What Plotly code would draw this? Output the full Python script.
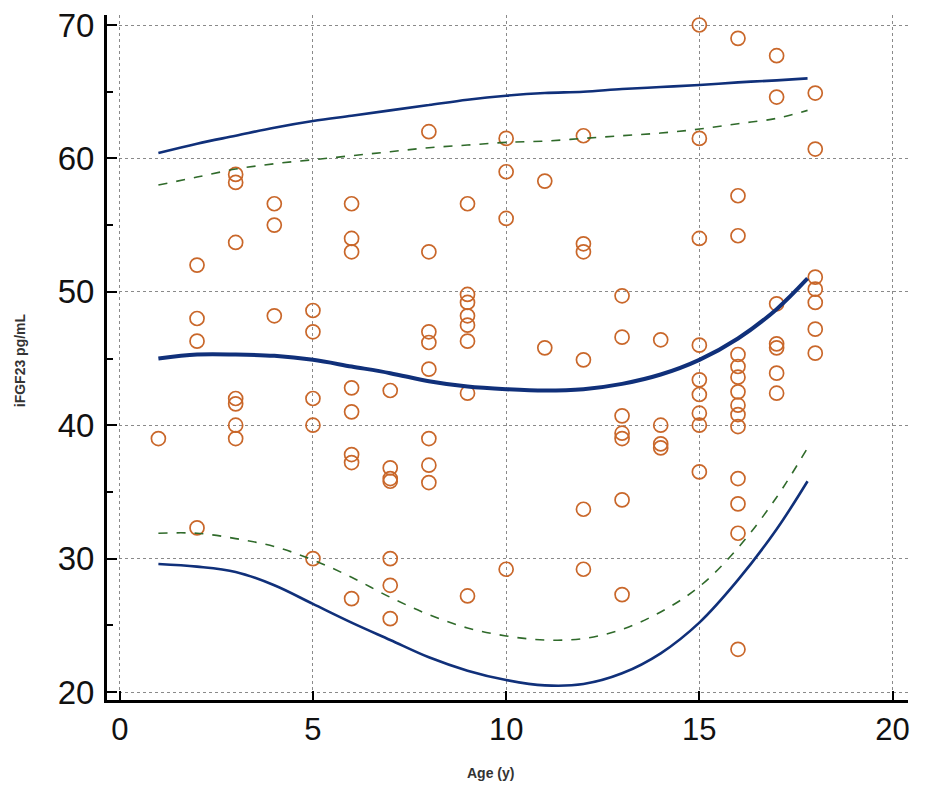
import plotly.graph_objects as go

# ---- scatter points (age in years, iFGF23 pg/mL) ----
point_age = (
    [1]
    + [2] * 4
    + [3] * 7
    + [4] * 3
    + [5] * 5
    + [6] * 8
    + [7] * 7
    + [8] * 8
    + [9] * 8
    + [10] * 4
    + [11] * 2
    + [12] * 6
    + [13] * 7
    + [14] * 4
    + [15] * 9
    + [16] * 14
    + [17] * 7
    + [18] * 7
)
point_value = (
    [39.0]
    + [52.0, 48.0, 46.3, 32.3]
    + [58.8, 58.2, 53.7, 42.0, 41.6, 40.0, 39.0]
    + [56.6, 55.0, 48.2]
    + [48.6, 47.0, 42.0, 40.0, 30.0]
    + [56.6, 54.0, 53.0, 42.8, 41.0, 37.8, 37.2, 27.0]
    + [42.6, 36.8, 36.0, 35.8, 30.0, 28.0, 25.5]
    + [62.0, 53.0, 47.0, 46.2, 44.2, 39.0, 37.0, 35.7]
    + [56.6, 49.8, 49.2, 48.2, 47.5, 46.3, 42.4, 27.2]
    + [61.5, 59.0, 55.5, 29.2]
    + [58.3, 45.8]
    + [61.7, 53.6, 53.0, 44.9, 33.7, 29.2]
    + [49.7, 46.6, 40.7, 39.4, 39.0, 34.4, 27.3]
    + [46.4, 40.0, 38.6, 38.3]
    + [70.0, 61.5, 54.0, 46.0, 43.4, 42.3, 40.9, 40.0, 36.5]
    + [69.0, 57.2, 54.2, 45.3, 44.4, 43.6, 42.5, 41.5, 40.8, 39.9, 36.0, 34.1, 31.9, 23.2]
    + [67.7, 64.6, 49.1, 46.1, 45.8, 43.9, 42.4]
    + [64.9, 60.7, 51.1, 50.2, 49.2, 47.2, 45.4]
)

# ---- reference curves ----
curve_age = [1, 2, 3, 4, 5, 6, 7, 8, 9, 10, 11, 12, 13, 14, 15, 16, 17, 17.8]
upper_solid = [60.4, 61.1, 61.7, 62.3, 62.8, 63.2, 63.6, 64.0, 64.4, 64.7, 64.9, 65.0,
               65.2, 65.35, 65.5, 65.7, 65.85, 66.0]
upper_dash = [58.0, 58.6, 59.2, 59.6, 59.9, 60.2, 60.5, 60.8, 61.0, 61.2, 61.3, 61.5,
              61.7, 61.9, 62.2, 62.6, 63.0, 63.6]
median_line = [45.0, 45.3, 45.3, 45.2, 44.9, 44.4, 43.9, 43.3, 42.9, 42.7, 42.6, 42.7,
               43.1, 43.8, 44.9, 46.5, 48.7, 51.0]
lower_dash = [31.9, 31.9, 31.5, 30.9, 29.9, 28.6, 27.1, 25.8, 24.8, 24.2, 23.9, 24.0,
              24.7, 26.0, 27.9, 30.8, 34.6, 38.3]
lower_solid = [29.6, 29.4, 29.0, 28.0, 26.6, 25.2, 23.9, 22.6, 21.6, 20.9, 20.5, 20.6,
               21.4, 22.9, 25.2, 28.4, 32.2, 35.8]

x_ticks = [0, 5, 10, 15, 20]
y_ticks = [20, 30, 40, 50, 60, 70]

NAVY = "#10307a"
GREEN = "#2f6a2a"
ORANGE = "#c9672a"

fig = go.Figure()

fig.add_trace(go.Scatter(
    x=point_age, y=point_value, mode="markers",
    marker=dict(symbol="circle-open", size=14, color=ORANGE, line=dict(width=1.7, color=ORANGE)),
    showlegend=False, hoverinfo="skip", cliponaxis=False))

for vals, color, width, dash in [
    (upper_solid, NAVY, 2.6, "solid"),
    (upper_dash, GREEN, 1.6, "dash"),
    (median_line, NAVY, 4.0, "solid"),
    (lower_dash, GREEN, 1.6, "dash"),
    (lower_solid, NAVY, 2.6, "solid"),
]:
    fig.add_trace(go.Scatter(
        x=curve_age, y=vals, mode="lines",
        line=dict(color=color, width=width, dash=dash, shape="spline"),
        showlegend=False, hoverinfo="skip"))

tick_font = dict(family="Liberation Sans, Arial, sans-serif", color="#111")

fig.update_layout(
    width=945, height=807,
    margin=dict(l=99, r=45, t=7, b=115, autoexpand=False),
    paper_bgcolor="white", plot_bgcolor="white",
    xaxis=dict(
        range=[-0.33, 20.4], tickmode="array", tickvals=x_ticks,
        ticktext=[str(v) for v in x_ticks],
        tickfont=dict(size=31, **tick_font),
        showline=True, linecolor="black", linewidth=3,
        ticks="inside", ticklen=9, tickwidth=2, tickcolor="black",
        ticklabeloverflow="allow", automargin=False,
        showgrid=True, gridcolor="#8a8a8a", gridwidth=1, griddash="dot",
        zeroline=False,
    ),
    yaxis=dict(
        range=[19.4, 70.75], tickmode="array", tickvals=y_ticks,
        ticktext=[str(v) for v in y_ticks],
        tickfont=dict(size=33, **tick_font),
        showline=True, linecolor="black", linewidth=3,
        ticks="inside", ticklen=10, tickwidth=2, tickcolor="black",
        ticklabelstandoff=3, ticklabeloverflow="allow", automargin=False,
        showgrid=True, gridcolor="#8a8a8a", gridwidth=1, griddash="dot",
        zeroline=False,
        minor=dict(tickvals=[25, 35, 45, 55, 65], ticks="inside", ticklen=6,
                   tickwidth=2, tickcolor="black", showgrid=False),
    ),
    annotations=[
        dict(text="<b>Age (y)</b>", x=9.6, xref="x", y=0, yref="paper",
             yshift=-73, showarrow=False, xanchor="center", yanchor="middle",
             font=dict(size=14, family="Liberation Sans, Arial, sans-serif", color="#333")),
        dict(text="<b>iFGF23 pg/mL</b>", x=0, xref="paper", y=0.496, yref="paper",
             xshift=-87, showarrow=False, textangle=-90, xanchor="center", yanchor="middle",
             font=dict(size=14, family="Liberation Sans, Arial, sans-serif", color="#333")),
    ],
)

fig.write_html("out.html")
